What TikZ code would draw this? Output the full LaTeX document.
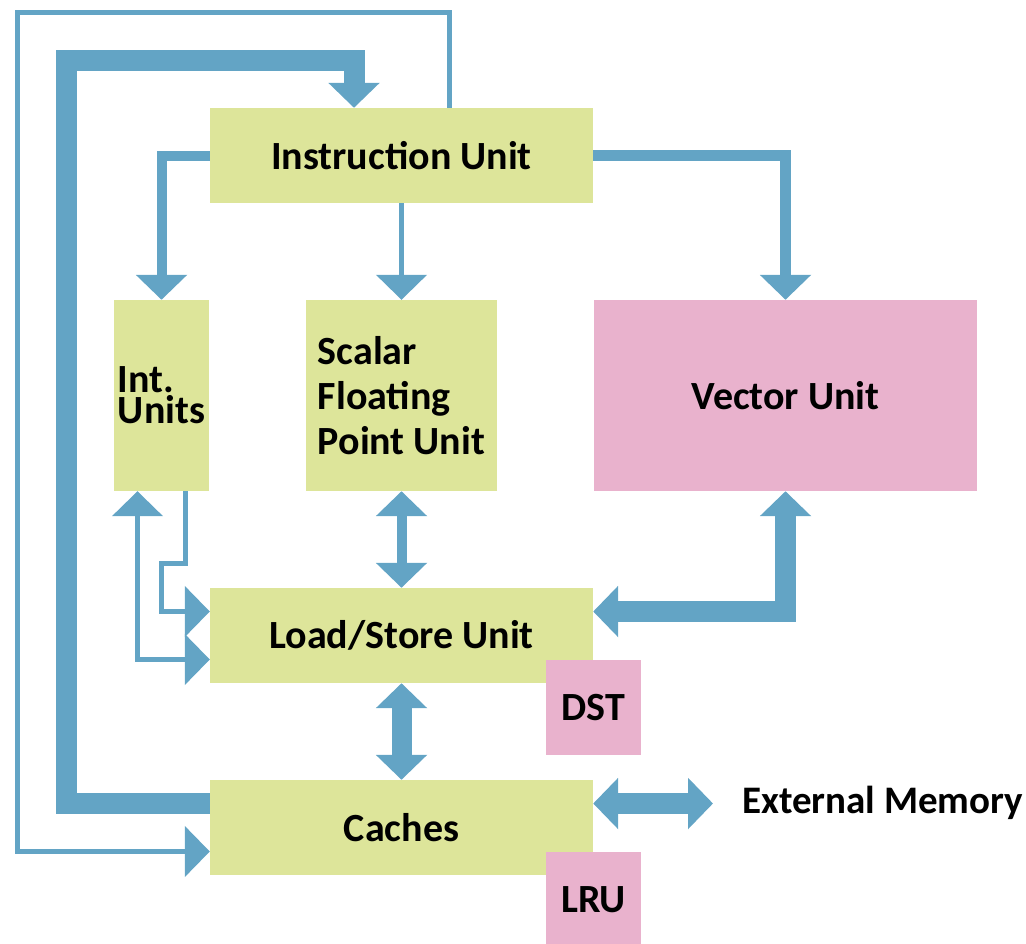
\documentclass[tikz,border=0pt]{standalone}
\usepackage{fontspec}
\setmainfont{Carlito}
\usetikzlibrary{arrows.meta}
\definecolor{boxg}{HTML}{DDE59A}
\definecolor{boxp}{HTML}{E9B2CD}
\definecolor{ablue}{HTML}{63A4C5}
\begin{document}
\begin{tikzpicture}[x=1pt,y=-1pt,
  >={Triangle[length=25pt 0 0,width=50pt 0 0]},
  lnk/.style={draw=ablue, line width=#1},
  txt/.style={font=\fontsize{40}{#1}\selectfont\bfseries},
  gbox/.style={fill=boxg, draw=none, inner sep=0pt, align=left, txt=31},
  pbox/.style={fill=boxp, draw=none, inner sep=0pt, align=left, txt=31}]
\useasboundingbox (0,0) rectangle (1026,943);
% boxes
\node[gbox, minimum width=383, minimum height=95] (iu) at (401.5,155.5) {Instruction Unit};
\node[gbox, minimum width=95, minimum height=191] (int) at (161.5,395.5) {Int.\\Units};
\node[gbox, minimum width=191, minimum height=191, txt=45] (sfp) at (401.5,395.5) {Scalar\\Floating\\Point Unit};
\node[pbox, minimum width=383, minimum height=191] (vu) at (785.5,395.5) {Vector Unit};
\node[gbox, minimum width=383, minimum height=95] (ls) at (401.5,635.5) {Load/Store Unit};
\node[pbox, minimum width=95, minimum height=95] (dst) at (593.5,707.5) {DST};
\node[gbox, minimum width=383, minimum height=95] (ca) at (401.5,827.5) {Caches};
\node[pbox, minimum width=95, minimum height=95] (lru) at (593.5,899.5) {LRU};
\node[anchor=base west, inner sep=0pt, font=\fontsize{39}{40}\selectfont\bfseries] (ext) at (742,813) {External Memory};
\coordinate (xm) at (713,803.5);
% connectors
\draw[lnk=5,->] ([xshift=48pt]iu.north) -- (449.5,12) -- (17.5,12) -- (17.5,851.5) -- ([yshift=-24pt]ca.west);
\draw[lnk=21,->] ([yshift=24pt]ca.west) -- (66,803.5) -- (66,60) -- (354,60) -- ([xshift=-47.5pt]iu.north);
\draw[lnk=10,->] (iu.west) -| (int.north);
\draw[lnk=5,->] (iu.south) -- (sfp.north);
\draw[lnk=11,->] (iu.east) -| (vu.north);
\draw[lnk=5,->] ([xshift=24pt]int.south) -- (185.5,563.5) -- (161.5,563.5) -- (161.5,611.5) -- ([yshift=24pt]ls.west);
\draw[lnk=5,<->] ([xshift=-24pt]int.south) |- ([yshift=-24pt]ls.west);
\draw[lnk=10,<->] (sfp.south) -- (ls.north);
\draw[lnk=20,<->] (ls.south) -- (ca.north);
\draw[lnk=21,<->] (vu.south) |- ([yshift=24pt]ls.east);
\draw[lnk=21,<->] ([yshift=24pt]ca.east) -- (xm);
\end{tikzpicture}
\end{document}
